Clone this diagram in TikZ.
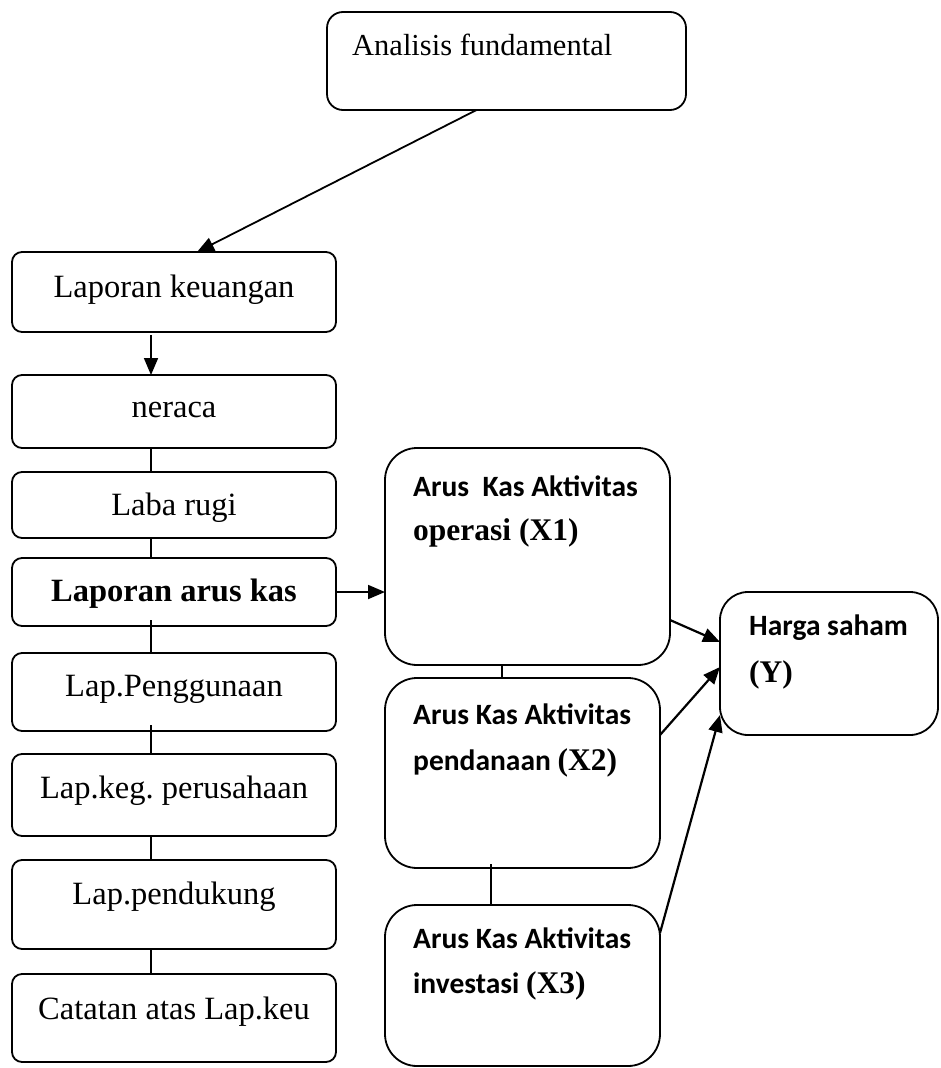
\documentclass[tikz,border=0pt]{standalone}
\usepackage{fontspec}
\setmainfont{Liberation Serif}
\newfontfamily\calib{Carlito}
\usetikzlibrary{arrows.meta}
\frenchspacing
\begin{document}
\begin{tikzpicture}[x=1pt,y=-1pt,
  box/.style={draw, line width=1.8pt, rounded corners=10pt, inner sep=0pt, outer sep=0pt},
  bigbox/.style={box, rounded corners=32pt},
  lab/.style={anchor=base, inner sep=0pt, font=\fontsize{32.5}{38}\selectfont},
  rlab/.style={anchor=base west, inner sep=0pt, font=\fontsize{29.5}{34}\selectfont\calib\bfseries},
  tb/.style={font=\fontsize{31.5}{36}\selectfont\rmfamily\bfseries},
  conn/.style={line width=1.4pt},
  arr/.style={line width=2.2pt, -{Triangle[length=17pt,width=14pt]}}]
\useasboundingbox[fill=white] (0,0) rectangle (940,1068);

% top box
\node[box, rounded corners=16pt, minimum width=359pt, minimum height=98pt] (af) at (506.5,61) {};
\node[lab, anchor=base west, font=\fontsize{30.5}{36}\selectfont] (aft) at (352,55) {Analisis fundamental};

% left column
\node[box, minimum width=324pt, minimum height=80pt] (lk) at (174,292) {};
\node[lab] (lkt) at (174,297) {Laporan keuangan};
\node[box, minimum width=324pt, minimum height=73pt] (ner) at (174,411.5) {};
\node[lab] (nert) at (174,417) {neraca};
\node[box, minimum width=324pt, minimum height=66pt] (lr) at (174,505) {};
\node[lab] (lrt) at (174,515) {Laba rugi};
\node[box, minimum width=324pt, minimum height=68pt] (lak) at (174,592) {};
\node[lab, font=\fontsize{32.5}{38}\selectfont\bfseries] (lakt) at (174,601) {Laporan arus kas};
\node[box, minimum width=324pt, minimum height=78pt] (lpg) at (174,692) {};
\node[lab] (lpgt) at (174,696) {Lap.Penggunaan};
\node[box, minimum width=324pt, minimum height=82pt] (lkp) at (174,795) {};
\node[lab] (lkpt) at (174,798) {Lap.keg. perusahaan};
\node[box, minimum width=324pt, minimum height=89pt] (lpd) at (174,904.5) {};
\node[lab] (lpdt) at (174,904) {Lap.pendukung};
\node[box, minimum width=324pt, minimum height=88pt] (cat) at (174,1018) {};
\node[lab] (catt) at (174,1019) {Catatan atas Lap.keu};

% right column
\node[bigbox, minimum width=285pt, minimum height=217pt] (x1) at (527.5,556.5) {};
\node[rlab] (x1a) at (413,496) {Arus\ \ Kas Aktivitas};
\node[rlab, tb] (x1b) at (413,540) {operasi (X1)};
\node[bigbox, minimum width=275pt, minimum height=190pt] (x2) at (522.5,773) {};
\node[rlab] (x2a) at (413,724) {Arus Kas Aktivitas};
\node[rlab] (x2b) at (413,770) {pendanaan {\fontsize{31.5}{36}\selectfont\rmfamily(X2)}};
\node[bigbox, minimum width=275pt, minimum height=161pt] (x3) at (522.5,985.5) {};
\node[rlab] (x3a) at (413,948) {Arus Kas Aktivitas};
\node[rlab] (x3b) at (413,993) {investasi {\fontsize{31.5}{36}\selectfont\rmfamily(X3)}};
\node[bigbox, rounded corners=28pt, minimum width=218pt, minimum height=143pt] (h) at (829,663.5) {};
\node[rlab] (ha) at (749,635) {Harga saham};
\node[rlab, tb] (hb) at (749,682) {(Y)};

% connectors
\coordinate (lc) at (151,0);
\draw[arr, line width=1.8pt] ([xshift=-30pt]af.south) -- ([xshift=23pt]lk.north);
\draw[arr, line width=1.8pt] ([yshift=-3pt]lk.south -| lc) -- (ner.north -| lc);
\draw[conn] (ner.south -| lc) -- (lr.north -| lc);
\draw[conn] (lr.south -| lc) -- (lak.north -| lc);
\draw[conn] ([yshift=6pt]lak.south -| lc) -- (lpg.north -| lc);
\draw[conn] ([yshift=6pt]lpg.south -| lc) -- (lkp.north -| lc);
\draw[conn] (lkp.south -| lc) -- (lpd.north -| lc);
\draw[conn] (lpd.south -| lc) -- (cat.north -| lc);
\draw[arr, line width=1.8pt] (lak.east) -- (lak.east -| x1.west);

\coordinate (c1) at (502,0);
\coordinate (c2) at (491,0);
\draw[conn] (x1.south -| c1) -- (x2.north -| c1);
\draw[conn] ([yshift=4pt]x2.south -| c2) -- (x3.north -| c2);

\draw[arr] ([yshift=-63.5pt]x1.east) -- ([yshift=21.5pt]h.west);
\draw[arr] ([yshift=38pt]x2.east) -- ([yshift=-3.5pt]h.west);
\draw[arr] ([yshift=52.5pt]x3.east) -- ([yshift=-51.5pt]h.west);
\end{tikzpicture}
\end{document}
